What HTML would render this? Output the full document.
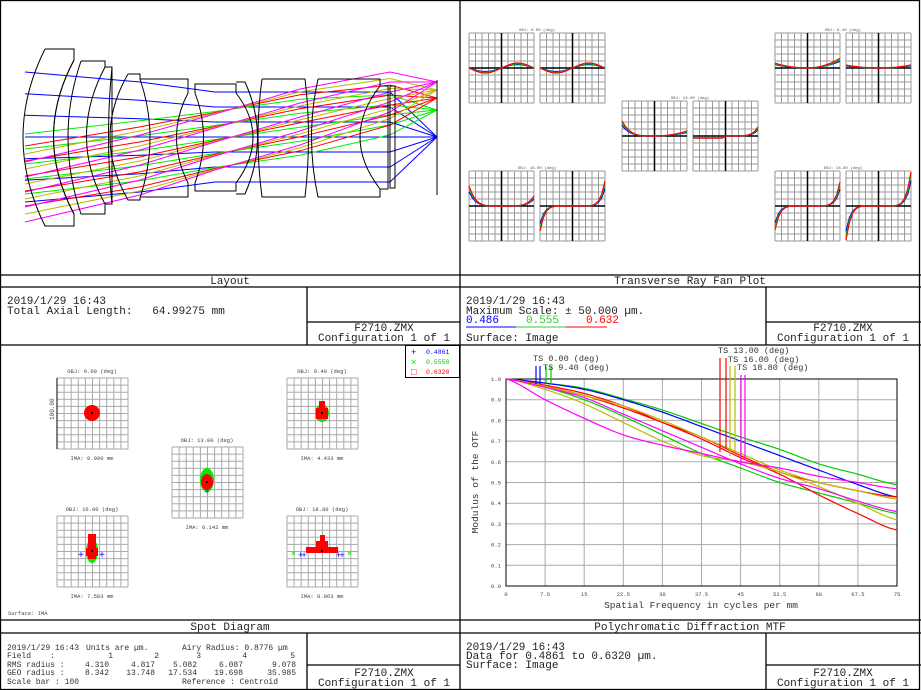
<!DOCTYPE html>
<html><head><meta charset="utf-8"><style>
body{margin:0;background:#fff;}
svg{display:block;}
text{font-family:"Liberation Mono",monospace;}
</style></head><body>
<svg id="s" width="921" height="690" xmlns="http://www.w3.org/2000/svg">
<rect x="0" y="0" width="921" height="690" fill="#fff"/>
<g id="rays" fill="none" stroke-width="1"></g>
<g id="lay" fill="none" stroke="#000" stroke-width="1"></g>
<g id="fan"></g>
<g id="spot"></g>
<g id="mtf"></g>
<g fill="none" stroke="#000" stroke-width="1.3">
<rect x="0.5" y="0.5" width="919" height="689"/>
<line x1="460" y1="0" x2="460" y2="690"/>
<line x1="0" y1="275" x2="921" y2="275"/>
<line x1="0" y1="287" x2="921" y2="287"/>
<line x1="0" y1="345" x2="921" y2="345"/>
<line x1="0" y1="620" x2="921" y2="620"/>
<line x1="0" y1="633" x2="921" y2="633"/>
<line x1="307" y1="287" x2="307" y2="345"/>
<line x1="307" y1="322" x2="460" y2="322"/>
<line x1="766" y1="287" x2="766" y2="345"/>
<line x1="766" y1="322" x2="921" y2="322"/>
<line x1="307" y1="633" x2="307" y2="690"/>
<line x1="307" y1="665" x2="460" y2="665"/>
<line x1="766" y1="633" x2="766" y2="690"/>
<line x1="766" y1="665" x2="921" y2="665"/>
</g>
<g font-size="11" fill="#222">
<text x="230" y="284" text-anchor="middle">Layout</text>
<text x="690" y="284" text-anchor="middle">Transverse Ray Fan Plot</text>
<text x="230" y="630" text-anchor="middle">Spot Diagram</text>
<text x="690" y="630" text-anchor="middle">Polychromatic Diffraction MTF</text>
<text x="7" y="304">2019/1/29 16:43</text>
<text x="7" y="314" xml:space="preserve">Total Axial Length:   64.99275 mm</text>
<text x="384" y="331" text-anchor="middle">F2710.ZMX</text>
<text x="384" y="341" text-anchor="middle">Configuration 1 of 1</text>
<text x="466" y="304">2019/1/29 16:43</text>
<text x="466" y="314" xml:space="preserve">Maximum Scale: ± 50.000 µm.</text>
<text x="466" y="323" fill="#00f">0.486</text><text x="526" y="323" fill="#3c3">0.555</text><text x="586" y="323" fill="#f00">0.632</text>
<text x="466" y="341">Surface: Image</text>
<text x="843" y="331" text-anchor="middle">F2710.ZMX</text>
<text x="843" y="341" text-anchor="middle">Configuration 1 of 1</text>
<text x="466" y="650">2019/1/29 16:43</text>
<text x="466" y="659">Data for 0.4861 to 0.6320 µm.</text>
<text x="466" y="668">Surface: Image</text>
<text x="384" y="676" text-anchor="middle">F2710.ZMX</text>
<text x="384" y="686" text-anchor="middle">Configuration 1 of 1</text>
<text x="843" y="676" text-anchor="middle">F2710.ZMX</text>
<text x="843" y="686" text-anchor="middle">Configuration 1 of 1</text>
</g>
<line x1="466" y1="327" x2="516" y2="327" stroke="#00f"/><line x1="516" y1="327" x2="566" y2="327" stroke="#3c3"/><line x1="566" y1="327" x2="607" y2="327" stroke="#f00"/>
<g font-size="8" fill="#333">
<text x="7" y="650">2019/1/29 16:43</text><text x="86" y="650">Units are µm.</text>
<text x="182" y="650">Airy Radius: 0.8776 µm</text>
<text x="7" y="658">Field</text><text x="50" y="658">:</text>
<text x="7" y="667">RMS radius :</text>
<text x="7" y="675">GEO radius :</text>
<text x="7" y="684">Scale bar  : 100</text>
<text x="182" y="684">Reference  : Centroid</text>
</g>
<g font-size="8" fill="#333" text-anchor="end">
<text x="113" y="658">1</text><text x="159" y="658">2</text><text x="201" y="658">3</text><text x="247" y="658">4</text><text x="295" y="658">5</text>
<text x="109" y="667">4.310</text><text x="155" y="667">4.817</text><text x="197" y="667">5.082</text><text x="243" y="667">6.087</text><text x="296" y="667">9.078</text>
<text x="109" y="675">8.342</text><text x="155" y="675">13.748</text><text x="197" y="675">17.534</text><text x="243" y="675">19.698</text><text x="296" y="675">35.985</text>
</g>
</svg>
<script>
const NS="http://www.w3.org/2000/svg";
function el(p,t,a){const e=document.createElementNS(NS,t);for(const k in a)e.setAttribute(k,a[k]);p.appendChild(e);return e;}
const lay=document.getElementById('lay');
[
"M45,49 L74,49 L74,60 Q33,137 74,214 L74,226 L45,226 Q1,137 45,49",
"M81,61 L105,61 L105,67 L112,67 L112,204 L105,204 L105,214 L81,214 Q55,137 81,61",
"M74,60 Q33,137 74,214",
"M105,67 Q68,137 105,204",
"M112,67 Q105,137 112,204",
"M128,74 L140,74 L140,79 Q160,137 140,198 L140,200 L128,200 Q92,137 128,74",
"M140,79 L188,79 L188,93 Q165,137 188,183 L188,197 L140,197",
"M195,84 L236,84 L236,93 Q270,137 236,183 L236,191 L195,191 L195,183 Q212,137 195,93 Z",
"M236,82 L245,82 Q270,137 245,194 L236,194",
"M262,79 L305,79 Q312,137 305,197 L262,197 Q254,137 262,79",
"M318,79 L380,79 L380,86 Q340,137 380,189 L380,197 L318,197 Q305,137 318,79",
"M380,86 L388,86 L388,189 L380,189",
"M390,86 L395,86 L395,188 L390,188 Z",
"M437,80 L437,195"
].forEach(d=>el(lay,'path',{d:d}));
const rays=document.getElementById('rays');
const rc=[["#00f",137],["#0e0",110],["#f00",98],["#bb0",90],["#f0f",82]];
const xs=[25,140,215,300,390,437];
rc.forEach(([c,iy],k)=>{
  const h=(137-iy)/55;
  const chief=[137+h*55,137+h*28,137+h*5,137-h*20,137-h*45,iy];
  const half=k==0?[65,55,45,45,45,0]:[30,30,28,28,20,0];
  const n=k==0?7:5;
  for(let i=0;i<n;i++){
    const f=i/(n-1)-0.5;
    const pts=xs.map((x,j)=>x+","+(chief[j]+f*2*half[j]).toFixed(1));
    el(rays,'polyline',{points:pts.join(' '),stroke:c});
  }
});
const fan=document.getElementById('fan');
const fans=[[469,33,0],[540,33,0],[622,101,1],[693,101,1],[469,171,2],[540,171,2],[775,33,3],[846,33,3],[775,171,4],[846,171,4]];
fans.forEach(([x,y,t],j)=>{
  const w=65,h=70;
  for(let i=0;i<=10;i++){el(fan,'line',{x1:x+i*w/10,y1:y,x2:x+i*w/10,y2:y+h,stroke:"#999","stroke-width":1});el(fan,'line',{x1:x,y1:y+i*h/10,x2:x+w,y2:y+i*h/10,stroke:"#999","stroke-width":1});}
  const cx=x+w/2,cy=y+h/2;
  el(fan,'line',{x1:cx,y1:y,x2:cx,y2:y+h,stroke:"#000","stroke-width":1.5});
  el(fan,'line',{x1:x,y1:cy,x2:x+w,y2:cy,stroke:"#000","stroke-width":1.5});
  if(j%2==0){const tt=["OBJ: 0.00 (deg)","OBJ: 13.00 (deg)","OBJ: 16.00 (deg)","OBJ: 9.40 (deg)","OBJ: 18.80 (deg)"][t];el(fan,'text',{x:x+w+3,y:y-2,"font-size":4,"text-anchor":"middle",fill:"#555"}).textContent=tt;}
  [["#00f",0.7],["#0c0",0.85],["#f00",1]].forEach(([c,a])=>{
    let pts=[];
    for(let s=0;s<=20;s++){const u=s/10-1;let v;
      if(t==0)v=-a*5*Math.sin(u*Math.PI);
      else if(t==1)v=(j%2?(u<0?2:-3*Math.pow(u,6)*a*3):(u<0?-a*15*Math.pow(u,4):-a*5*u*u));
      else if(t==2)v=(j%2?-a*25*Math.pow(u,7):-a*20*Math.pow(u,5)*(u<0?-1:0.5));
      else if(t==3)v=(j%2?-a*3*u*u:-a*8*u*u*(u>0?1.2:0.6));
      else v=-a*30*Math.pow(u,7)*(j%2?1.2:0.8);
      v=Math.max(-34,Math.min(34,v));
      pts.push(`${(cx+u*w/2).toFixed(1)},${(cy+v).toFixed(1)}`);}
    el(fan,'polyline',{points:pts.join(' '),fill:"none",stroke:c,"stroke-width":1.2});
  });
});
const sp=document.getElementById('spot');
const grids=[[57,378,"OBJ: 0.00 (deg)","IMA: 0.000 mm"],[287,378,"OBJ: 9.40 (deg)","IMA: 4.433 mm"],[172,447,"OBJ: 13.00 (deg)","IMA: 6.142 mm"],[57,516,"OBJ: 16.00 (deg)","IMA: 7.583 mm"],[287,516,"OBJ: 18.80 (deg)","IMA: 8.963 mm"]];
grids.forEach(([x,y,a,b],k)=>{
  for(let i=0;i<=10;i++){el(sp,'line',{x1:x+i*7.1,y1:y,x2:x+i*7.1,y2:y+71,stroke:"#aaa"});el(sp,'line',{x1:x,y1:y+i*7.1,x2:x+71,y2:y+i*7.1,stroke:"#aaa"});}
  el(sp,'text',{x:x+35,y:y-5,"font-size":5.5,"text-anchor":"middle",fill:"#444"}).textContent=a;
  el(sp,'text',{x:x+35,y:y+82,"font-size":5.5,"text-anchor":"middle",fill:"#444"}).textContent=b;
  const cx=x+35,cy=y+35;
  if(k==0){el(sp,'circle',{cx:cx,cy:cy,r:8,fill:"#f00"});}
  if(k==1){el(sp,'ellipse',{cx:cx,cy:cy,rx:7,ry:9,fill:"#0e0"});el(sp,'rect',{x:cx-6,y:cy-5,width:12,height:11,fill:"#f00"});el(sp,'rect',{x:cx-3,y:cy-12,width:6,height:10,fill:"#f00"});}
  if(k==2){el(sp,'ellipse',{cx:cx,cy:cy-2,rx:7,ry:12,fill:"#0e0"});el(sp,'ellipse',{cx:cx,cy:cy,rx:6,ry:8,fill:"#f00"});el(sp,'text',{x:cx,y:cy+12,"font-size":8,"text-anchor":"middle",fill:"#00f"}).textContent="+";}
  if(k==3){el(sp,'ellipse',{cx:cx,cy:cy,rx:6,ry:12,fill:"#0e0"});el(sp,'rect',{x:cx-4,y:cy-17,width:8,height:25,fill:"#f00"});el(sp,'rect',{x:cx-6,y:cy-3,width:12,height:8,fill:"#f00"});el(sp,'text',{x:cx-14,y:cy+7,"font-size":10,fill:"#00f"}).textContent="+";el(sp,'text',{x:cx+7,y:cy+7,"font-size":10,fill:"#00f"}).textContent="+";}
  if(k==4){el(sp,'rect',{x:cx-16,y:cy-4,width:32,height:6,fill:"#f00"});el(sp,'rect',{x:cx-6,y:cy-10,width:12,height:10,fill:"#f00"});el(sp,'rect',{x:cx-2,y:cy-16,width:5,height:8,fill:"#f00"});el(sp,'text',{x:cx-24,y:cy+7,"font-size":9,fill:"#00f","letter-spacing":-2}).textContent="++";el(sp,'text',{x:cx+14,y:cy+7,"font-size":9,fill:"#00f","letter-spacing":-2}).textContent="++";el(sp,'text',{x:cx-31,y:cy+5,"font-size":8,fill:"#0c0"}).textContent="×";el(sp,'text',{x:cx+25,y:cy+5,"font-size":8,fill:"#0c0"}).textContent="×";}
  el(sp,'rect',{x:cx-1,y:cy-1,width:2,height:2,fill:"#000"});
});
el(sp,'line',{x1:57,y1:378,x2:57,y2:449,stroke:"#000"});
el(sp,'text',{x:0,y:0,"font-size":6,fill:"#444",transform:"translate(54,420) rotate(-90)"}).textContent="100.00";
el(sp,'text',{x:8,y:615,"font-size":5.5,fill:"#444"}).textContent="Surface: IMA";
el(sp,'rect',{x:405.5,y:345.5,width:54,height:32,fill:"none",stroke:"#000"});
[["+","0.4861","#00f"],["×","0.5550","#0c0"],["□","0.6320","#f00"]].forEach(([m,t,c],i)=>{el(sp,'text',{x:411,y:355+i*10,"font-size":9,fill:c}).textContent=m;el(sp,'text',{x:426,y:354+i*10,"font-size":6.5,fill:c}).textContent=t;});
const mt=document.getElementById('mtf');
const X0=506,X1=897,Y0=379,Y1=586;
const px=f=>X0+(f/75)*(X1-X0),py=v=>Y1-v*(Y1-Y0);
for(let i=0;i<=10;i++){el(mt,'line',{x1:px(i*7.5),y1:Y0,x2:px(i*7.5),y2:Y1,stroke:"#aaa"});el(mt,'line',{x1:X0,y1:py(i/10),x2:X1,y2:py(i/10),stroke:"#aaa"});
 el(mt,'text',{x:X0-10,y:py(i/10)+2,"font-size":5.5,"text-anchor":"middle",fill:"#444"}).textContent=(i/10).toFixed(1);
 const lab=["0","7.5","15","22.5","30","37.5","45","52.5","60","67.5","75"][i];
 el(mt,'text',{x:px(i*7.5),y:Y1+10,"font-size":5.5,"text-anchor":"middle",fill:"#444"}).textContent=lab;}
el(mt,'rect',{x:X0,y:Y0,width:X1-X0,height:Y1-Y0,fill:"none",stroke:"#000","stroke-width":1});
const curves=[
["#0c0",[1,.98,.955,.905,.85,.785,.72,.66,.59,.54,.49]],
["#00f",[1,.98,.95,.90,.84,.77,.70,.63,.56,.49,.43]],
["#0c0",[1,.96,.90,.82,.73,.64,.57,.50,.45,.40,.35]],
["#f00",[1,.97,.93,.87,.79,.71,.62,.54,.44,.35,.27]],
["#f00",[1,.965,.92,.86,.79,.72,.63,.55,.50,.46,.43]],
["#bb0",[1,.95,.88,.79,.70,.63,.60,.55,.48,.40,.32]],
["#bb0",[1,.965,.92,.87,.80,.72,.64,.56,.50,.46,.42]],
["#f0f",[1,.90,.81,.73,.68,.64,.60,.57,.53,.50,.47]],
["#f0f",[1,.96,.91,.83,.75,.67,.59,.52,.47,.41,.36]]];
curves.forEach(([c,v])=>{let d="";
 for(let s=0;s<=100;s++){const f=s/10;const i=Math.min(9,Math.floor(f));const t=f-i;
  const p0=v[Math.max(0,i-1)],p1=v[i],p2=v[i+1],p3=v[Math.min(10,i+2)];
  const y=0.5*((2*p1)+(-p0+p2)*t+(2*p0-5*p1+4*p2-p3)*t*t+(-p0+3*p1-3*p2+p3)*t*t*t);
  d+=(s?"L":"M")+px(f*7.5).toFixed(1)+","+py(y).toFixed(1);}
 el(mt,'path',{d:d,fill:"none",stroke:c,"stroke-width":1.2});});
[[536,"#00f",366,384],[540,"#00f",366,384],[546,"#0c0",366,384],[551,"#0c0",366,384],[720,"#f00",358,452],[726,"#f00",358,448],[730,"#bb0",366,456],[735,"#bb0",366,452],[741,"#f0f",375,465],[745,"#f0f",375,460]].forEach(([x,c,a,b])=>el(mt,'line',{x1:x,y1:a,x2:x,y2:b,stroke:c,"stroke-width":1.2}));
[["TS 0.00 (deg)",533,361],["TS 9.40 (deg)",543,370],["TS 13.00 (deg)",718,353],["TS 16.00 (deg)",728,362],["TS 18.80 (deg)",737,370]].forEach(([t,x,y])=>el(mt,'text',{x:x,y:y,"font-size":8.5,fill:"#333"}).textContent=t);
el(mt,'text',{x:701,y:608,"font-size":9.5,"text-anchor":"middle",fill:"#333"}).textContent="Spatial Frequency in cycles per mm";
el(mt,'text',{x:0,y:0,"font-size":9.5,"text-anchor":"middle",fill:"#333",transform:"translate(478,482) rotate(-90)"}).textContent="Modulus of the OTF";
</script>
</body></html>
